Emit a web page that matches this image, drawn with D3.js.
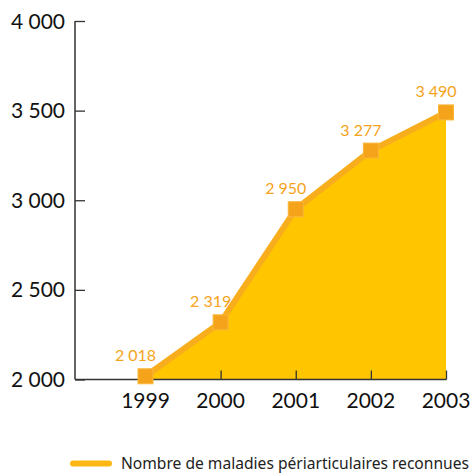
<!DOCTYPE html>
<html><head><meta charset="utf-8">
<script src="https://cdn.jsdelivr.net/npm/d3@7"></script>
<style>body{margin:0;background:#fff}svg{display:block}</style>
</head><body>
<script>
const years = [1999, 2000, 2001, 2002, 2003];
const values = [2018, 2319, 2950, 3277, 3490];
const valueLabels = ["2 018", "2 319", "2 950", "3 277", "3 490"];
const yTicks = [2000, 2500, 3000, 3500, 4000];
const yTickLabels = ["2 000", "2 500", "3 000", "3 500", "4 000"];
const seriesName = "Nombre de maladies périarticulaires reconnues";

const W = 470, H = 474;
const font = "Lato, 'Noto Sans', sans-serif";
const svg = d3.select("body").append("svg").attr("width", W).attr("height", H);

const x = d3.scaleLinear().domain([1999, 2003]).range([145.5, 446]);
const y = d3.scaleLinear().domain([2000, 4000]).range([379.5, 21]);
const x0 = 75;

const data = years.map((yr, i) => ({yr, v: values[i], lab: valueLabels[i]}));

// area
const area = d3.area().x(d => x(d.yr)).y0(y(2000)).y1(d => y(d.v));
svg.append("path").datum(data).attr("d", area).attr("fill", "#FFC600");

// line
const line = d3.line().x(d => x(d.yr)).y(d => y(d.v));
svg.append("path").datum(data).attr("d", line).attr("fill", "none")
  .attr("stroke", "#F8AE1C").attr("stroke-width", 6).attr("stroke-linejoin", "round");

// y axis
const yAxis = d3.axisRight(y).tickValues(yTicks).tickSize(10).tickFormat("");
const gy = svg.append("g").attr("transform", `translate(${x0},0)`).call(yAxis);
gy.select(".domain").remove();
gy.selectAll(".tick line").attr("stroke", "#333").attr("stroke-width", 1.3);
svg.append("line").attr("x1", x0).attr("x2", x0).attr("y1", y(4000)).attr("y2", y(2000))
  .attr("stroke", "#333").attr("stroke-width", 1.5);
svg.append("g").selectAll("text").data(yTicks).join("text")
  .attr("x", 65).attr("y", d => y(d)).attr("dy", "0.36em")
  .attr("text-anchor", "end").attr("font-family", font).attr("font-size", 21)
  .attr("fill", "#111").text((d, i) => yTickLabels[i]);

// x axis
const xAxis = d3.axisTop(x).tickValues(years).tickSize(9).tickFormat("");
const gx = svg.append("g").attr("transform", `translate(0,${y(2000)})`).call(xAxis);
gx.select(".domain").remove();
gx.selectAll(".tick line").attr("stroke", "#333").attr("stroke-width", 1.3);
svg.append("line").attr("x1", x0).attr("x2", x(2003) + 0.5).attr("y1", y(2000)).attr("y2", y(2000))
  .attr("stroke", "#333").attr("stroke-width", 1.5);
svg.append("g").selectAll("text").data(years).join("text")
  .attr("x", d => x(d)).attr("y", 408).attr("text-anchor", "middle")
  .attr("font-family", font).attr("font-size", 21).attr("fill", "#111").text(d => d);

// markers
svg.append("g").selectAll("rect").data(data).join("rect")
  .attr("x", d => x(d.yr) - 7.5).attr("y", d => y(d.v) - 7.5)
  .attr("width", 15).attr("height", 15)
  .attr("fill", "#F5A31B").attr("stroke", "#F9B73A").attr("stroke-width", 1);

// value labels
svg.append("g").selectAll("text").data(data).join("text")
  .attr("x", d => x(d.yr) - 10).attr("y", d => y(d.v) - 15)
  .attr("text-anchor", "middle").attr("font-family", font).attr("font-size", 16)
  .attr("fill", "#F5A31B").text(d => d.lab);

// legend
svg.append("line").attr("x1", 73).attr("x2", 109).attr("y1", 463.5).attr("y2", 463.5)
  .attr("stroke", "#FDB813").attr("stroke-width", 6).attr("stroke-linecap", "round");
svg.append("text").attr("x", 121).attr("y", 469).attr("font-family", "'Noto Sans', sans-serif")
  .attr("font-size", 15.6).attr("fill", "#222").text(seriesName);
</script>
</body></html>
